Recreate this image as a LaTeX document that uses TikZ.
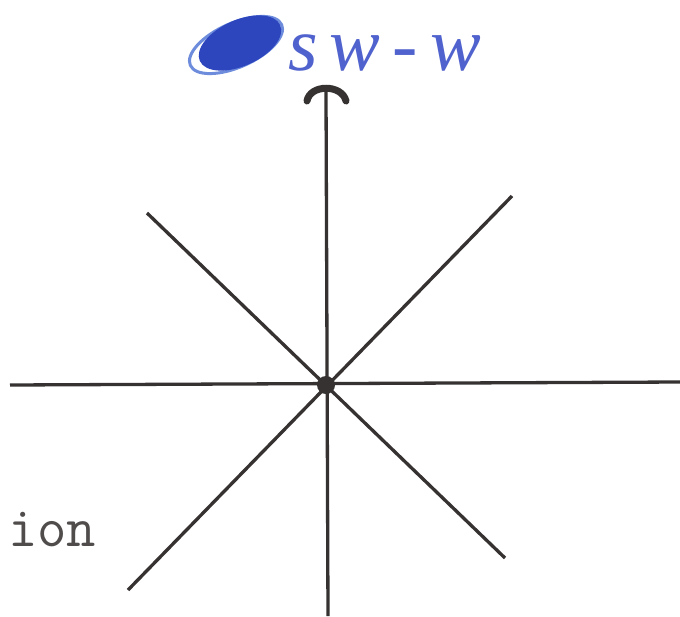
\documentclass[tikz,border=0pt]{standalone}
\usepackage{fontspec}
\usetikzlibrary{shapes.geometric}
\newfontfamily\handfont[LetterSpace=16]{Liberation Serif}
\definecolor{ink}{RGB}{55,50,50}
\definecolor{txt}{RGB}{80,76,76}
\definecolor{pen}{RGB}{80,98,205}
\definecolor{blob}{RGB}{45,70,190}
\definecolor{halo}{RGB}{110,140,220}
\begin{document}
\begin{tikzpicture}[x=1pt,y=-1pt,
  axisline/.style={draw=ink,line width=3.3pt},
  capline/.style={draw=ink,line width=7pt,line cap=round},
  labeltext/.style={inner sep=0pt,font=\ttfamily\fontsize{57}{57}\selectfont,text=txt},
  handtext/.style={inner sep=0pt,font=\handfont\itshape\fontsize{76}{76}\selectfont,text=pen}]
\useasboundingbox[fill=white] (0,0) rectangle (680,616);
% coordinates
\coordinate (c) at (326,385);
\coordinate (top) at (326,92);
\coordinate (bot) at (328,616);
\coordinate (left) at (10,385);
\coordinate (right) at (680,382);
\coordinate (nw) at (147,213);
\coordinate (se) at (505,558);
\coordinate (sw) at (128,590);
\coordinate (ne) at (512,196);
% lines
\draw[axisline] (top) -- (bot);
\draw[axisline] (left) -- (right);
\draw[axisline] (nw) -- (se);
\draw[axisline] (sw) -- (ne);
% arrow cap
\coordinate (capl) at (307,101);
\coordinate (capr) at (346,101);
\draw[capline] (capl) .. controls (310,84) and (342,84) .. (capr);
% centre dot
\node (dot) [circle,fill=ink,minimum size=18pt,inner sep=0pt] at (c) {};
% labels
\node (ion) [labeltext,anchor=base west] at (8,546) {ion};
\node (halonode) [ellipse,draw=halo,line width=3pt,minimum width=100pt,minimum height=44pt,inner sep=0pt,rotate=24] at (236,45) {};
\node (blobnode) [ellipse,fill=blob,minimum width=88pt,minimum height=46pt,inner sep=0pt,rotate=24] at (240,43) {};
\node (sww) [handtext,anchor=base west] at (288,70) {sw-w};
\end{tikzpicture}
\end{document}
